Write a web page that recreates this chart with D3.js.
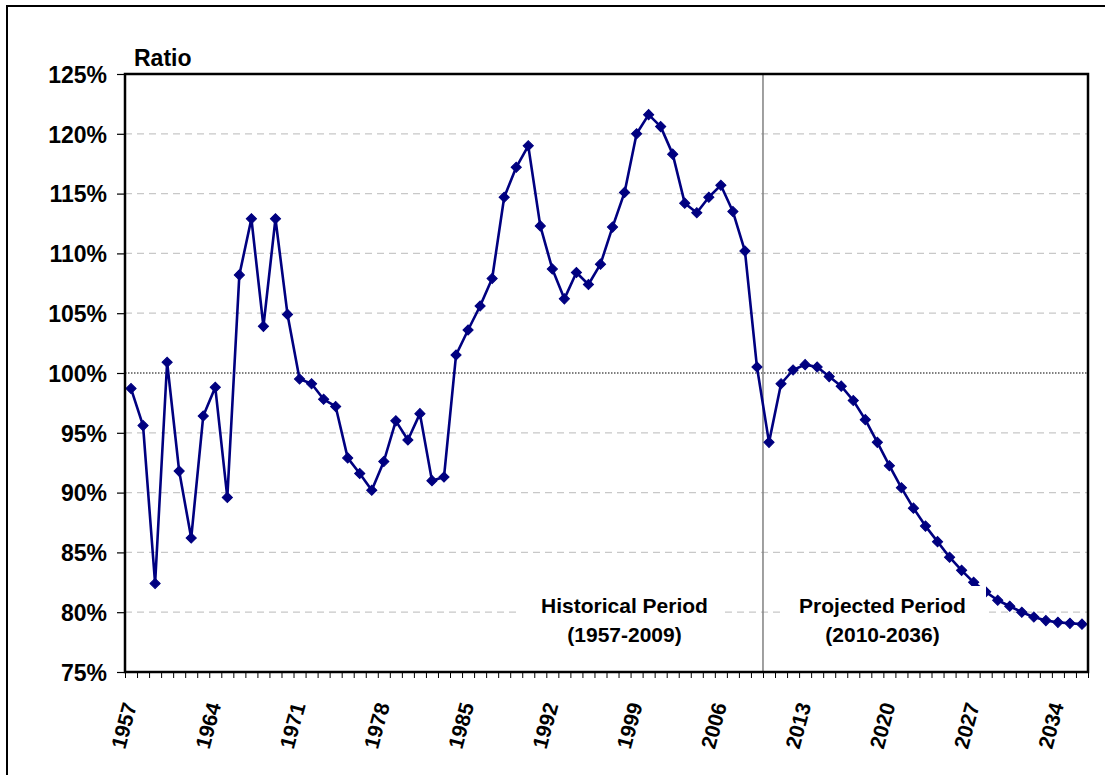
<!DOCTYPE html>
<html>
<head>
<meta charset="utf-8">
<script src="https://cdn.jsdelivr.net/npm/d3@7"></script>
<style>
  html, body { margin: 0; padding: 0; background: #fff; }
  svg { display: block; font-family: "Liberation Sans", Arial, sans-serif; }
</style>
</head>
<body>
<svg id="chart" width="1105" height="775"></svg>
<script>
// ---- data ----
const years = [1957,1958,1959,1960,1961,1962,1963,1964,1965,1966,1967,1968,1969,1970,1971,1972,1973,1974,1975,1976,
  1977,1978,1979,1980,1981,1982,1983,1984,1985,1986,1987,1988,1989,1990,1991,1992,1993,1994,1995,1996,
  1997,1998,1999,2000,2001,2002,2003,2004,2005,2006,2007,2008,2009,2010,2011,2012,2013,2014,2015,2016,
  2017,2018,2019,2020,2021,2022,2023,2024,2025,2026,2027,2028,2029,2030,2031,2032,2033,2034,2035,2036];
const historical = [98.7, 95.6, 82.4, 100.9, 91.8, 86.2, 96.4, 98.8, 89.6, 108.2,
  112.9, 103.9, 112.9, 104.9, 99.5, 99.1, 97.8, 97.2, 92.9, 91.6,
  90.2, 92.6, 96.0, 94.4, 96.6, 91.0, 91.3, 101.5, 103.6, 105.6,
  107.9, 114.7, 117.2, 119.0, 112.3, 108.7, 106.2, 108.4, 107.4, 109.1,
  112.2, 115.1, 120.0, 121.6, 120.6, 118.3, 114.2, 113.4, 114.7, 115.7,
  113.5, 110.2, 100.5];
const projected = [94.2, 99.1, 100.25, 100.7, 100.5, 99.7, 98.9, 97.7, 96.1, 94.2,
  92.25, 90.4, 88.7, 87.2, 85.9, 84.6, 83.5, 82.5, 81.7, 81.0,
  80.5, 80.0, 79.6, 79.3, 79.15, 79.07, 79.0];
const yTicks = [75, 80, 85, 90, 95, 100, 105, 110, 115, 120, 125];
const xLabelYears = [1957, 1964, 1971, 1978, 1985, 1992, 1999, 2006, 2013, 2020, 2027, 2034];
const splitYear = 2010;
const yTitle = "Ratio";
const periodLabels = [
  ["Historical Period", "(1957-2009)"],
  ["Projected Period", "(2010-2036)"]
];

const values = historical.concat(projected);
const series = years.map((yr, i) => ({year: yr, value: values[i]}));

// ---- layout ----
const svg = d3.select("#chart");
const L = 125, R = 1088, T = 74, B = 672;
const navy = "#000080";
const FONT = "Liberation Sans, Arial, sans-serif";

const x = d3.scaleBand().domain(years).range([L, R]).padding(0);
const xc = d => x(d) + x.bandwidth() / 2;
const y = d3.scaleLinear().domain([75, 125]).range([B, T]);
const xBound = d3.scaleLinear().domain([0, years.length]).range([L, R]);

// outer frame
svg.append("rect").attr("x", 7).attr("y", 6).attr("width", 1300).attr("height", 900)
  .attr("fill", "none").attr("stroke", "#000").attr("stroke-width", 2);

// gridlines
svg.append("g").selectAll("line")
  .data(yTicks.filter(v => v !== 75 && v !== 125 && v !== 100))
  .join("line")
  .attr("x1", L).attr("x2", R)
  .attr("y1", d => y(d)).attr("y2", d => y(d))
  .attr("stroke", "#c8c8c8").attr("stroke-width", 1.2)
  .attr("stroke-dasharray", "7,5");

// 100% reference
svg.append("line").attr("x1", L).attr("x2", R)
  .attr("y1", y(100)).attr("y2", y(100))
  .attr("stroke", "#000").attr("stroke-width", 1.2)
  .attr("stroke-dasharray", "1.5,1.5");

// split line
const splitX = x(splitYear);
svg.append("line").attr("x1", splitX).attr("x2", splitX)
  .attr("y1", T).attr("y2", B)
  .attr("stroke", "#808080").attr("stroke-width", 1.5);

// data line
svg.append("path").datum(series)
  .attr("fill", "none").attr("stroke", navy).attr("stroke-width", 2.6)
  .attr("stroke-linejoin", "round")
  .attr("d", d3.line().x(d => xc(d.year)).y(d => y(d.value)));

// markers (diamonds)
svg.append("g").selectAll("path")
  .data(series).join("path")
  .attr("d", d3.symbol().type(d3.symbolSquare).size(52))
  .attr("transform", d => `translate(${xc(d.year)},${y(d.value)}) rotate(45)`)
  .attr("fill", navy).attr("stroke", navy).attr("stroke-width", 1);

// period labels with white background boxes
const boxes = [
  {x0: 520, x1: 725, cx: 624.5},
  {x0: 782, x1: 986, cx: 882.5}
];
periodLabels.forEach((lines, i) => {
  const b = boxes[i];
  svg.append("rect").attr("x", b.x0).attr("y", 586)
    .attr("width", b.x1 - b.x0).attr("height", 62)
    .attr("fill", "#fff");
  const t = svg.append("text")
    .attr("text-anchor", "middle").attr("font-weight", "bold")
    .attr("font-size", 21).attr("fill", "#000");
  lines.forEach((ln, j) => {
    t.append("tspan").attr("x", b.cx).attr("y", 613 + j * 29).text(ln);
  });
});

// plot border
svg.append("rect").attr("x", L).attr("y", T).attr("width", R - L).attr("height", B - T)
  .attr("fill", "none").attr("stroke", "#000").attr("stroke-width", 2.5);

// y axis
const yAxis = svg.append("g").attr("transform", `translate(${L},0)`)
  .call(d3.axisLeft(y).tickValues(yTicks).tickFormat(d => d + "%").tickSize(8).tickPadding(10));
yAxis.select(".domain").remove();
yAxis.selectAll(".tick line").attr("stroke", "#000").attr("stroke-width", 1.2);
yAxis.selectAll(".tick text").attr("font-size", 23).attr("font-weight", "bold")
  .attr("fill", "#000").attr("font-family", FONT).attr("dy", "0.36em");

// x tick marks at category boundaries
const xTickAxis = svg.append("g").attr("transform", `translate(0,${B})`)
  .call(d3.axisBottom(xBound).tickValues(d3.range(0, years.length + 1)).tickFormat("").tickSize(6));
xTickAxis.select(".domain").remove();
xTickAxis.selectAll(".tick line").attr("stroke", "#000").attr("stroke-width", 1);

// x labels
const xLab = svg.append("g").attr("transform", `translate(0,${B})`)
  .call(d3.axisBottom(x).tickValues(xLabelYears).tickSize(0).tickFormat(d => String(d)));
xLab.select(".domain").remove();
xLab.selectAll(".tick text")
  .attr("font-size", 21).attr("font-weight", "bold").attr("fill", "#000")
  .attr("font-family", FONT)
  .attr("text-anchor", "end")
  .attr("transform", "translate(-1,31) rotate(-75)")
  .attr("x", 0).attr("y", 0).attr("dy", "0.35em");

// y title
svg.append("text").attr("x", 134).attr("y", 66)
  .attr("font-size", 23).attr("font-weight", "bold").attr("fill", "#000")
  .text(yTitle);
</script>
</body>
</html>
